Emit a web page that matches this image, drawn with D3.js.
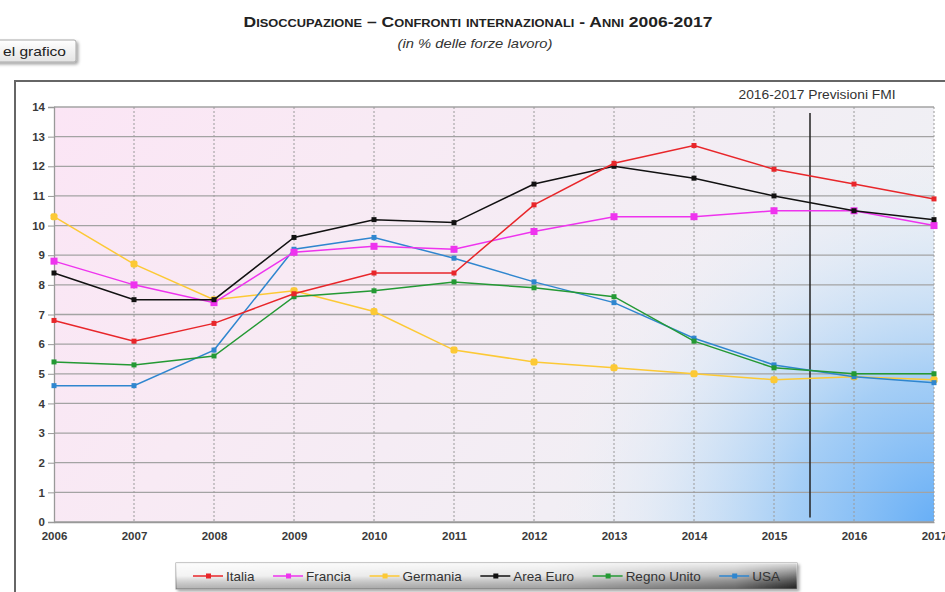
<!DOCTYPE html>
<html>
<head>
<meta charset="utf-8">
<script src="https://cdn.jsdelivr.net/npm/d3@7"></script>
<style>
  body { margin: 0; background: #fff; overflow: hidden; }
  svg { display: block; font-family: "Liberation Sans", Arial, sans-serif; }
</style>
</head>
<body>
<svg id="chart" width="945" height="592"></svg>
<script>
// anni sull'asse x
var years = [2006, 2007, 2008, 2009, 2010, 2011, 2012, 2013, 2014, 2015, 2016, 2017];
var yTicks = [0, 1, 2, 3, 4, 5, 6, 7, 8, 9, 10, 11, 12, 13, 14];

// tassi di disoccupazione (% forze lavoro)
var italia = [6.8, 6.1, 6.7, 7.7, 8.4, 8.4, 10.7, 12.1, 12.7, 11.9, 11.4, 10.9];
var francia = [8.8, 8.0, 7.4, 9.1, 9.3, 9.2, 9.8, 10.3, 10.3, 10.5, 10.5, 10.0];
var germania = [10.3, 8.7, 7.5, 7.8, 7.1, 5.8, 5.4, 5.2, 5.0, 4.8, 4.9, 4.8];
var areaEuro = [8.4, 7.5, 7.5, 9.6, 10.2, 10.1, 11.4, 12.0, 11.6, 11.0, 10.5, 10.2];
var regnoUnito = [5.4, 5.3, 5.6, 7.6, 7.8, 8.1, 7.9, 7.6, 6.1, 5.2, 5.0, 5.0];
var usa = [4.6, 4.6, 5.8, 9.2, 9.6, 8.9, 8.1, 7.4, 6.2, 5.3, 4.9, 4.7];

// linea che separa i dati dalle previsioni FMI
var forecastSplit = 2015.45;

var seriesNames = ["Italia", "Francia", "Germania", "Area Euro", "Regno Unito", "USA"];
var seriesColors = ["#e8262a", "#ee33ee", "#fcc935", "#111111", "#249934", "#2f86cf"];
var seriesValues = [italia, francia, germania, areaEuro, regnoUnito, usa];

var series = seriesNames.map(function (name, i) {
  return {
    name: name,
    color: seriesColors[i],
    big: name == "Francia" || name == "Germania",
    values: years.map(function (yr, j) { return { year: yr, value: seriesValues[i][j] }; })
  };
});

var svg = d3.select("#chart");
var defs = svg.append("defs");

// sfondo area grafico
var bg = defs.append("linearGradient").attr("id", "bgGrad")
  .attr("x1", 0).attr("y1", 0).attr("x2", 1).attr("y2", 0.3);
bg.append("stop").attr("offset", "0").attr("stop-color", "#fbe5f5");
bg.append("stop").attr("offset", "0.35").attr("stop-color", "#f8eaf4");
bg.append("stop").attr("offset", "1").attr("stop-color", "#eff0f4");

var blue = defs.append("radialGradient").attr("id", "blueGrad")
  .attr("gradientUnits", "userSpaceOnUse")
  .attr("cx", 950).attr("cy", 535).attr("r", 400);
blue.append("stop").attr("offset", "0").attr("stop-color", "#5eaaf6").attr("stop-opacity", 1);
blue.append("stop").attr("offset", "0.4").attr("stop-color", "#98c8f6").attr("stop-opacity", 0.85);
blue.append("stop").attr("offset", "0.75").attr("stop-color", "#d6e6f7").attr("stop-opacity", 0.5);
blue.append("stop").attr("offset", "1").attr("stop-color", "#eef0f6").attr("stop-opacity", 0);

var legGrad = defs.append("linearGradient").attr("id", "legGrad")
  .attr("x1", 0).attr("y1", 0).attr("x2", 1).attr("y2", 0);
legGrad.append("stop").attr("offset", "0").attr("stop-color", "#eeeeee");
legGrad.append("stop").attr("offset", "0.6").attr("stop-color", "#d4d4d4");
legGrad.append("stop").attr("offset", "0.9").attr("stop-color", "#8a8a8a");
legGrad.append("stop").attr("offset", "1").attr("stop-color", "#2a2a2a");

var legGloss = defs.append("linearGradient").attr("id", "legGloss")
  .attr("x1", 0).attr("y1", 0).attr("x2", 0).attr("y2", 1);
legGloss.append("stop").attr("offset", "0").attr("stop-color", "#fff").attr("stop-opacity", 0.85);
legGloss.append("stop").attr("offset", "0.5").attr("stop-color", "#fff").attr("stop-opacity", 0.35);
legGloss.append("stop").attr("offset", "1").attr("stop-color", "#000").attr("stop-opacity", 0.25);

var btnGrad = defs.append("linearGradient").attr("id", "btnGrad")
  .attr("x1", 0).attr("y1", 0).attr("x2", 0).attr("y2", 1);
btnGrad.append("stop").attr("offset", "0").attr("stop-color", "#ffffff");
btnGrad.append("stop").attr("offset", "1").attr("stop-color", "#e4e4e4");

var shadow = defs.append("filter").attr("id", "shadow")
  .attr("x", "-10%").attr("y", "-30%").attr("width", "130%").attr("height", "180%");
shadow.append("feDropShadow").attr("dx", 2).attr("dy", 2).attr("stdDeviation", 1.5)
  .attr("flood-color", "#000").attr("flood-opacity", 0.35);

// titolo
svg.append("text")
  .attr("x", 478).attr("y", 27)
  .attr("text-anchor", "middle")
  .style("font-size", "15px").style("font-weight", "bold")
  .style("font-variant", "small-caps").style("fill", "#222")
  .attr("textLength", 469).attr("lengthAdjust", "spacingAndGlyphs")
  .text("Disoccupazione – Confronti internazionali - Anni 2006-2017");

svg.append("text")
  .attr("x", 475).attr("y", 48)
  .attr("text-anchor", "middle")
  .style("font-size", "13px").style("font-style", "italic").style("fill", "#333")
  .attr("textLength", 155).attr("lengthAdjust", "spacingAndGlyphs")
  .text("(in % delle forze lavoro)");

// bottone tagliato a sinistra
svg.append("rect")
  .attr("x", -10).attr("y", 40).attr("width", 86).attr("height", 22)
  .attr("rx", 2).attr("fill", "url(#btnGrad)")
  .attr("stroke", "#a8a8a8").attr("filter", "url(#shadow)");
svg.append("text")
  .attr("x", 3).attr("y", 56)
  .style("font-size", "13px").style("fill", "#222")
  .attr("textLength", 63).attr("lengthAdjust", "spacingAndGlyphs")
  .text("el grafico");

// cornice
svg.append("rect")
  .attr("x", 15).attr("y", 81).attr("width", 960).attr("height", 540)
  .attr("fill", "#fff").attr("stroke", "#666").attr("stroke-width", 2);

var margin = { top: 107, left: 54, right: 934, bottom: 522 };
var x = d3.scaleLinear().domain([2006, 2017]).range([margin.left, margin.right]);
var y = d3.scaleLinear().domain([0, 14]).range([margin.bottom, margin.top]);

var plot = svg.append("g");

plot.append("rect")
  .attr("x", x(2006)).attr("y", y(14))
  .attr("width", x(2017) - x(2006)).attr("height", y(0) - y(14))
  .attr("fill", "url(#bgGrad)");
plot.append("rect")
  .attr("x", x(2006)).attr("y", y(14))
  .attr("width", x(2017) - x(2006)).attr("height", y(0) - y(14))
  .attr("fill", "url(#blueGrad)");

// griglia orizzontale
plot.selectAll(".hgrid").data(yTicks).enter().append("line")
  .attr("class", "hgrid")
  .attr("x1", x(2006)).attr("x2", x(2017))
  .attr("y1", function (d) { return y(d); })
  .attr("y2", function (d) { return y(d); })
  .attr("stroke", "#a3a3a3").attr("stroke-width", 1.3);

// griglia verticale tratteggiata
plot.selectAll(".vgrid").data(years.slice(1)).enter().append("line")
  .attr("class", "vgrid")
  .attr("x1", function (d) { return x(d); })
  .attr("x2", function (d) { return x(d); })
  .attr("y1", y(14)).attr("y2", y(0))
  .attr("stroke", "#9a9a9a").attr("stroke-dasharray", "2,2");

// assi
var yAxis = svg.append("g")
  .attr("transform", "translate(" + x(2006) + ",0)")
  .call(d3.axisLeft(y).tickValues(yTicks).tickSize(6).tickPadding(3).tickFormat(d3.format("d")));
var xAxis = svg.append("g")
  .attr("transform", "translate(0," + y(0) + ")")
  .call(d3.axisBottom(x).tickValues(years).tickSize(0).tickPadding(10).tickFormat(d3.format("d")));

[yAxis, xAxis].forEach(function (ax) {
  ax.select(".domain").attr("stroke", "#999").attr("stroke-width", 1.3);
  ax.selectAll(".tick line").attr("stroke", "#999");
  ax.selectAll("text")
    .style("font-size", "11.5px").style("font-weight", "bold")
    .style("font-family", "'Liberation Sans', Arial, sans-serif")
    .attr("fill", "#3a3a3a");
});

// linea previsioni
svg.append("line")
  .attr("x1", x(forecastSplit)).attr("x2", x(forecastSplit))
  .attr("y1", y(13.8)).attr("y2", y(0.15))
  .attr("stroke", "#222").attr("stroke-width", 1.5);
svg.append("text")
  .attr("x", 817).attr("y", 99)
  .attr("text-anchor", "middle")
  .style("font-size", "12px").style("fill", "#333")
  .attr("textLength", 157).attr("lengthAdjust", "spacingAndGlyphs")
  .text("2016-2017 Previsioni FMI");

// serie
var lineGenerator = d3.line()
  .x(function (d) { return x(d.year); })
  .y(function (d) { return y(d.value); });

var drawOrder = ["Germania", "USA", "Regno Unito", "Francia", "Area Euro", "Italia"];
drawOrder.forEach(function (name) {
  var s = series.filter(function (d) { return d.name == name; })[0];
  var g = svg.append("g");
  g.append("path")
    .datum(s.values)
    .attr("fill", "none")
    .attr("stroke", s.color)
    .attr("stroke-width", 1.5)
    .attr("d", lineGenerator);
  var sz = s.big ? 7 : 5;
  g.selectAll("rect").data(s.values).enter().append("rect")
    .attr("x", function (d) { return x(d.year) - sz / 2; })
    .attr("y", function (d) { return y(d.value) - sz / 2; })
    .attr("width", sz).attr("height", sz)
    .attr("rx", s.name == "Germania" ? 2 : 0)
    .attr("fill", s.color);
});

// legenda
var legend = svg.append("g");
var legBox = legend.append("g");
var items = legend.append("g");
var cx = 193;
series.forEach(function (s) {
  var it = items.append("g");
  it.append("line")
    .attr("x1", cx).attr("x2", cx + 30)
    .attr("y1", 576).attr("y2", 576)
    .attr("stroke", s.color).attr("stroke-width", 1.5);
  it.append("rect")
    .attr("x", cx + 13).attr("y", 573.5).attr("width", 5).attr("height", 5)
    .attr("fill", s.color);
  var t = it.append("text")
    .attr("x", cx + 33).attr("y", 581)
    .style("font-size", "13.5px").style("fill", "#333")
    .text(s.name);
  cx += 33 + t.node().getComputedTextLength() + 18.5;
});
legBox.append("rect")
  .attr("x", 176).attr("y", 563).attr("width", 621).attr("height", 26)
  .attr("fill", "url(#legGrad)").attr("stroke", "#999").attr("filter", "url(#shadow)");
legBox.append("rect")
  .attr("x", 176).attr("y", 563).attr("width", 621).attr("height", 26)
  .attr("fill", "url(#legGloss)");
</script>
</body>
</html>
